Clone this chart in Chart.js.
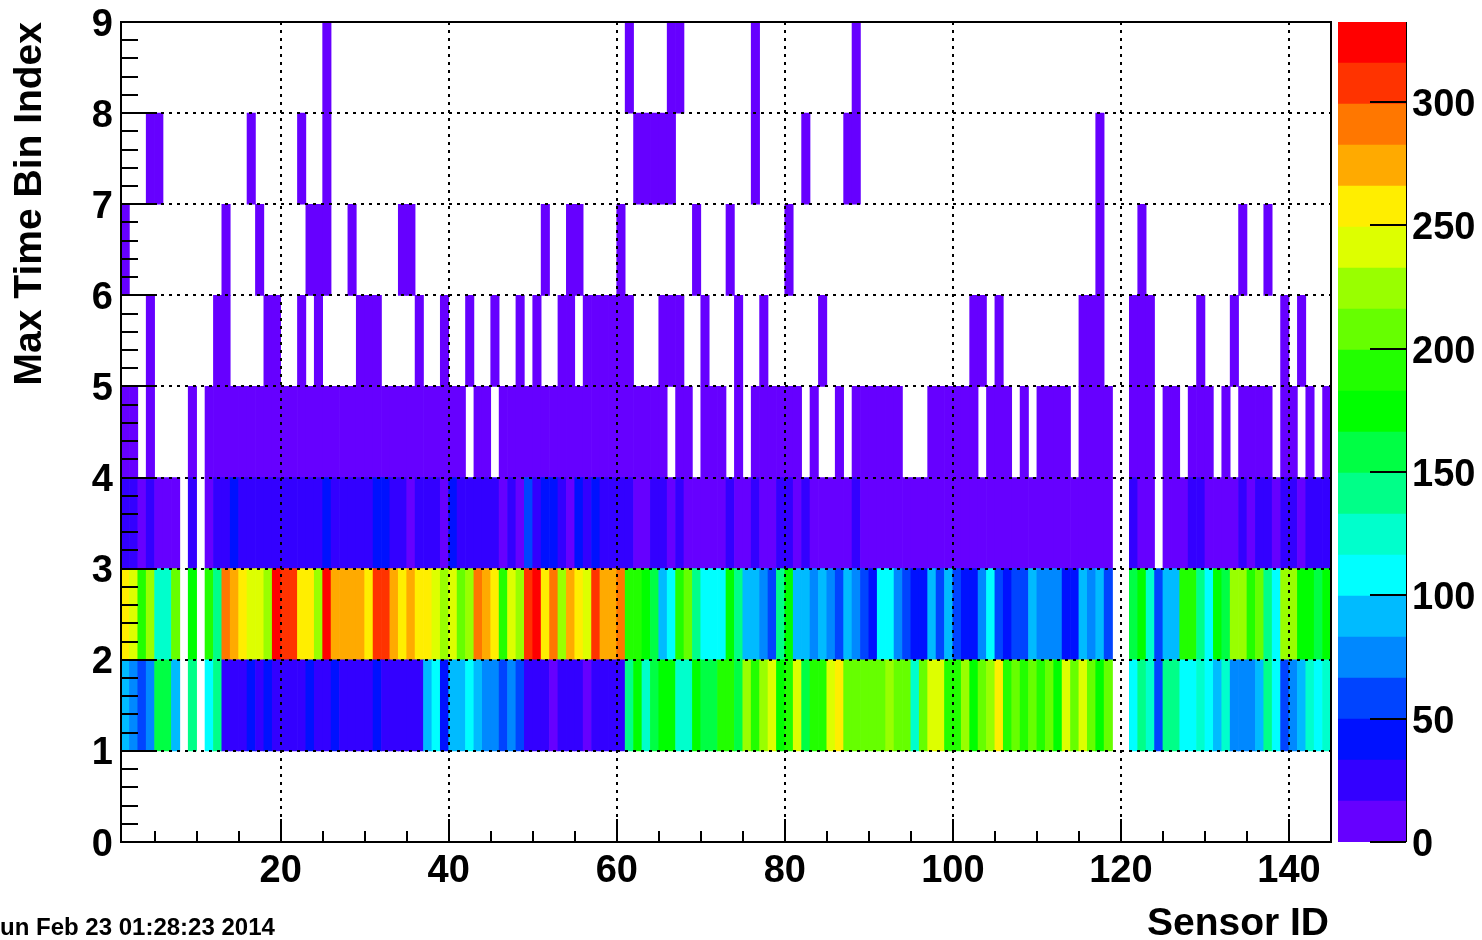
<!DOCTYPE html>
<html>
<head>
<meta charset="utf-8">
<script src="https://cdn.jsdelivr.net/npm/chart.js@4.4.0/dist/chart.umd.min.js"></script>
<style>
  html, body { margin: 0; padding: 0; background: #fff; }
  #wrap { position: relative; width: 1482px; height: 940px; overflow: hidden; }
  #main { position: absolute; left: 0; top: 0; }
  #zbar { position: absolute; left: 1330px; top: 0; }
</style>
</head>
<body>
<div id="wrap">
  <canvas id="main" width="1482" height="940"></canvas>
  <canvas id="zbar" width="152" height="940"></canvas>
</div>
<script>
// Sensor IDs (x bins, 1 wide, from 1 to 145)
var sensorIds = Array.from({ length: 144 }, function (_, i) { return i + 1; });

// Counts per sensor for each "max time bin index" row (lower edge of the y bin)
var rowY1 = [
  91, 75, 58, 75, 158, 158, 91, 0, 141, 0,
  108, 141, 25, 25, 25, 41, 25, 41, 25, 25,
  25, 25, 41, 25, 25, 41, 25, 25, 25, 25,
  41, 25, 25, 25, 25, 25, 91, 108, 41, 91,
  91, 108, 91, 75, 75, 58, 75, 58, 25, 25,
  25, 8, 25, 25, 25, 8, 25, 25, 25, 25,
  141, 175, 125, 158, 175, 175, 125, 125, 175, 158,
  158, 191, 191, 158, 224, 191, 224, 241, 175, 191,
  241, 158, 191, 191, 241, 257, 208, 208, 208, 208,
  208, 224, 208, 208, 125, 208, 241, 241, 191, 191,
  224, 175, 208, 224, 257, 191, 208, 191, 208, 191,
  208, 175, 241, 208, 241, 208, 175, 208, 0, 0,
  108, 141, 125, 58, 141, 141, 108, 108, 125, 108,
  91, 125, 75, 75, 75, 91, 141, 108, 58, 75,
  91, 125, 108, 125
];
var rowY2 = [
  257, 241, 191, 224, 125, 125, 208, 0, 175, 0,
  191, 141, 291, 274, 257, 241, 241, 224, 324, 307,
  307, 257, 257, 224, 324, 274, 274, 274, 274, 257,
  307, 307, 274, 257, 274, 257, 257, 241, 224, 241,
  208, 224, 291, 274, 257, 191, 241, 224, 307, 324,
  257, 291, 224, 274, 257, 241, 307, 274, 274, 291,
  191, 191, 175, 158, 91, 108, 191, 208, 141, 108,
  108, 108, 175, 141, 91, 91, 75, 58, 141, 175,
  91, 91, 75, 91, 75, 58, 91, 75, 58, 41,
  108, 108, 75, 58, 41, 41, 91, 58, 91, 58,
  41, 41, 75, 108, 58, 41, 58, 58, 91, 75,
  75, 75, 41, 41, 91, 75, 91, 58, 0, 0,
  158, 175, 125, 58, 91, 91, 191, 191, 141, 108,
  175, 158, 224, 224, 191, 208, 141, 108, 224, 224,
  175, 175, 158, 175
];
var rowY3 = [
  25, 25, 8, 25, 8, 8, 8, 0, 25, 0,
  8, 25, 25, 41, 25, 25, 25, 25, 25, 25,
  25, 25, 25, 25, 41, 25, 25, 25, 25, 25,
  41, 41, 25, 25, 8, 25, 25, 25, 8, 41,
  25, 25, 25, 25, 25, 8, 25, 8, 58, 25,
  41, 41, 25, 8, 41, 25, 41, 25, 25, 25,
  25, 8, 8, 25, 25, 8, 25, 8, 8, 8,
  8, 8, 25, 8, 8, 25, 8, 8, 25, 25,
  8, 25, 8, 8, 8, 8, 8, 25, 8, 8,
  8, 8, 8, 8, 8, 8, 8, 8, 8, 8,
  8, 8, 8, 8, 8, 8, 8, 8, 8, 8,
  8, 8, 8, 8, 8, 8, 8, 8, 0, 0,
  25, 8, 8, 0, 8, 8, 8, 25, 25, 8,
  8, 8, 8, 25, 8, 25, 25, 8, 25, 25,
  8, 25, 25, 25
];
var rowY4 = [
  4, 4, 0, 4, 0, 0, 0, 0, 4, 0,
  4, 4, 4, 4, 4, 4, 4, 4, 4, 4,
  4, 4, 4, 4, 4, 4, 4, 4, 4, 4,
  4, 4, 4, 4, 4, 4, 4, 4, 4, 4,
  4, 0, 4, 4, 0, 4, 4, 4, 4, 4,
  4, 4, 4, 4, 4, 4, 4, 4, 4, 4,
  4, 4, 4, 4, 4, 0, 4, 4, 0, 4,
  4, 4, 0, 4, 0, 4, 4, 4, 4, 4,
  4, 0, 4, 0, 0, 4, 0, 4, 4, 4,
  4, 4, 4, 0, 0, 0, 4, 4, 4, 4,
  4, 4, 0, 4, 4, 4, 0, 4, 0, 4,
  4, 4, 4, 0, 4, 4, 4, 4, 0, 0,
  4, 4, 4, 0, 4, 4, 0, 4, 4, 4,
  0, 4, 0, 4, 4, 4, 4, 0, 4, 4,
  0, 4, 0, 4
];
var rowY5 = [
  0, 0, 0, 1, 0, 0, 0, 0, 0, 0,
  0, 1, 1, 0, 0, 0, 0, 1, 1, 0,
  0, 1, 0, 1, 0, 0, 0, 0, 1, 1,
  1, 0, 0, 0, 0, 1, 0, 0, 1, 0,
  0, 1, 0, 0, 1, 0, 0, 1, 0, 1,
  0, 0, 1, 1, 0, 1, 1, 1, 1, 1,
  1, 0, 0, 0, 1, 1, 1, 0, 0, 1,
  0, 0, 0, 1, 0, 0, 1, 0, 0, 0,
  0, 0, 0, 1, 0, 0, 0, 0, 0, 0,
  0, 0, 0, 0, 0, 0, 0, 0, 0, 0,
  0, 1, 1, 0, 1, 0, 0, 0, 0, 0,
  0, 0, 0, 0, 1, 1, 1, 0, 0, 0,
  1, 1, 1, 0, 0, 0, 0, 0, 1, 0,
  0, 0, 1, 0, 0, 0, 0, 0, 1, 0,
  1, 0, 0, 0
];
var rowY6 = [
  1, 0, 0, 0, 0, 0, 0, 0, 0, 0,
  0, 0, 1, 0, 0, 0, 1, 0, 0, 0,
  0, 0, 1, 1, 1, 0, 0, 1, 0, 0,
  0, 0, 0, 1, 1, 0, 0, 0, 0, 0,
  0, 0, 0, 0, 0, 0, 0, 0, 0, 0,
  1, 0, 0, 1, 1, 0, 0, 0, 0, 1,
  0, 0, 0, 0, 0, 0, 0, 0, 1, 0,
  0, 0, 1, 0, 0, 0, 0, 0, 0, 1,
  0, 0, 0, 0, 0, 0, 0, 0, 0, 0,
  0, 0, 0, 0, 0, 0, 0, 0, 0, 0,
  0, 0, 0, 0, 0, 0, 0, 0, 0, 0,
  0, 0, 0, 0, 0, 0, 1, 0, 0, 0,
  0, 1, 0, 0, 0, 0, 0, 0, 0, 0,
  0, 0, 0, 1, 0, 0, 1, 0, 0, 0,
  0, 0, 0, 0
];
var rowY7 = [
  0, 0, 0, 1, 1, 0, 0, 0, 0, 0,
  0, 0, 0, 0, 0, 1, 0, 0, 0, 0,
  0, 1, 0, 0, 1, 0, 0, 0, 0, 0,
  0, 0, 0, 0, 0, 0, 0, 0, 0, 0,
  0, 0, 0, 0, 0, 0, 0, 0, 0, 0,
  0, 0, 0, 0, 0, 0, 0, 0, 0, 0,
  0, 1, 1, 1, 1, 1, 0, 0, 0, 0,
  0, 0, 0, 0, 0, 1, 0, 0, 0, 0,
  0, 1, 0, 0, 0, 0, 1, 1, 0, 0,
  0, 0, 0, 0, 0, 0, 0, 0, 0, 0,
  0, 0, 0, 0, 0, 0, 0, 0, 0, 0,
  0, 0, 0, 0, 0, 0, 1, 0, 0, 0,
  0, 0, 0, 0, 0, 0, 0, 0, 0, 0,
  0, 0, 0, 0, 0, 0, 0, 0, 0, 0,
  0, 0, 0, 0
];
var rowY8 = [
  0, 0, 0, 0, 0, 0, 0, 0, 0, 0,
  0, 0, 0, 0, 0, 0, 0, 0, 0, 0,
  0, 0, 0, 0, 1, 0, 0, 0, 0, 0,
  0, 0, 0, 0, 0, 0, 0, 0, 0, 0,
  0, 0, 0, 0, 0, 0, 0, 0, 0, 0,
  0, 0, 0, 0, 0, 0, 0, 0, 0, 0,
  1, 0, 0, 0, 0, 1, 1, 0, 0, 0,
  0, 0, 0, 0, 0, 1, 0, 0, 0, 0,
  0, 0, 0, 0, 0, 0, 0, 1, 0, 0,
  0, 0, 0, 0, 0, 0, 0, 0, 0, 0,
  0, 0, 0, 0, 0, 0, 0, 0, 0, 0,
  0, 0, 0, 0, 0, 0, 0, 0, 0, 0,
  0, 0, 0, 0, 0, 0, 0, 0, 0, 0,
  0, 0, 0, 0, 0, 0, 0, 0, 0, 0,
  0, 0, 0, 0
];

var rowLowEdges = [1, 2, 3, 4, 5, 6, 7, 8];
var rowValues = [rowY1, rowY2, rowY3, rowY4, rowY5, rowY6, rowY7, rowY8];

// Axis ticks / labels
var xLabelTicks = [20, 40, 60, 80, 100, 120, 140];
var yLabelTicks = [0, 1, 2, 3, 4, 5, 6, 7, 8, 9];
var zLabelTicks = [0, 50, 100, 150, 200, 250, 300];

// Colour scale (ROOT rainbow, 20 contours)
var zMin = 0;
var zMax = 332.4;
var palette = [
  "#6600ff", "#3300ff", "#0011ff", "#0044ff", "#0088ff",
  "#00bbff", "#00ffff", "#00ffcc", "#00ff88", "#00ff44",
  "#00ff00", "#22ff00", "#66ff00", "#99ff00", "#ddff00",
  "#ffee00", "#ffaa00", "#ff7700", "#ff3300", "#ff0000"
];

var FONT = '"Liberation Sans", Arial, Helvetica, sans-serif';

function colorFor(v) {
  var idx = Math.floor((v - zMin) / (zMax - zMin) * palette.length);
  if (idx < 0) idx = 0;
  if (idx > palette.length - 1) idx = palette.length - 1;
  return palette[idx];
}

// one floating-bar dataset per y row, zero cells left out (ROOT leaves them empty)
var datasets = rowValues.map(function (vals, r) {
  var pts = [];
  vals.forEach(function (v, i) {
    if (v > 0) pts.push({ x: sensorIds[i] + 0.5, y: [rowLowEdges[r], rowLowEdges[r] + 1], v: v });
  });
  return {
    data: pts,
    backgroundColor: function (c) { return c.raw ? colorFor(c.raw.v) : palette[0]; },
    borderWidth: 0,
    grouped: false,
    barPercentage: 1,
    categoryPercentage: 1
  };
});

function line(c, x1, y1, x2, y2) {
  c.beginPath();
  c.moveTo(x1, y1);
  c.lineTo(x2, y2);
  c.stroke();
}

var rootFrame = {
  id: "rootFrame",
  afterDraw: function (chart) {
    var c = chart.ctx;
    var a = chart.chartArea;
    var xs = chart.scales.x;
    var ys = chart.scales.y;
    c.save();
    c.strokeStyle = "#000";
    c.lineWidth = 2;

    // x ticks, inside the frame
    for (var v = 5; v <= 145; v += 5) {
      var px = Math.round(xs.getPixelForValue(v));
      line(c, px, a.bottom, px, a.bottom - (v % 20 === 0 ? 23 : 11));
    }
    // y ticks
    for (var i = 0; i <= 45; i++) {
      var py = Math.round(ys.getPixelForValue(i * 0.2));
      line(c, a.left, py, a.left + (i % 5 === 0 ? 36 : 17), py);
    }
    c.strokeRect(a.left, a.top, a.right - a.left, a.bottom - a.top);

    // tick labels
    c.fillStyle = "#000";
    c.font = "bold 38px " + FONT;
    c.textBaseline = "alphabetic";
    c.textAlign = "center";
    xLabelTicks.forEach(function (t) {
      c.fillText(String(t), xs.getPixelForValue(t), 882);
    });
    c.textAlign = "right";
    yLabelTicks.forEach(function (t) {
      c.fillText(String(t), 113, ys.getPixelForValue(t) + 13.5);
    });

    // axis titles
    c.font = "bold 39px " + FONT;
    c.textAlign = "right";
    c.fillText("Sensor ID", a.right - 2, 935);
    c.save();
    c.translate(41, a.top);
    c.rotate(-Math.PI / 2);
    c.fillText("Max Time Bin Index", 0, 0);
    c.restore();

    // date stamp
    c.textAlign = "left";
    c.font = "bold 24px " + FONT;
    c.fillText("Sun Feb 23 01:28:23 2014", -16, 935);
    c.restore();
  }
};

new Chart(document.getElementById("main"), {
  type: "bar",
  data: { datasets: datasets },
  options: {
    responsive: false,
    animation: false,
    events: [],
    layout: { padding: { left: 121, right: 151, top: 22, bottom: 98 } },
    plugins: { legend: { display: false }, tooltip: { enabled: false } },
    scales: {
      x: {
        type: "linear",
        min: 1,
        max: 145,
        offset: false,
        afterFit: function (s) { s.height = 0; },
        afterBuildTicks: function (s) {
          s.ticks = xLabelTicks.map(function (t) { return { value: t }; });
        },
        ticks: { display: false },
        grid: { color: "#000", lineWidth: 2, drawTicks: false, offset: false, z: 1 },
        border: { display: false, dash: [3, 5] }
      },
      y: {
        type: "linear",
        min: 0,
        max: 9,
        afterFit: function (s) { s.width = 0; },
        afterBuildTicks: function (s) {
          s.ticks = yLabelTicks.slice(1, -1).map(function (t) { return { value: t }; });
        },
        ticks: { display: false },
        grid: { color: "#000", lineWidth: 2, drawTicks: false, offset: false, z: 1 },
        border: { display: false, dash: [3, 5] }
      }
    }
  },
  plugins: [rootFrame]
});

// colour bar: one floating bar per contour band
var bandDatasets = palette.map(function (col, i) {
  var step = (zMax - zMin) / palette.length;
  return {
    data: [[zMin + i * step, zMin + (i + 1) * step]],
    backgroundColor: col,
    borderWidth: 0,
    grouped: false,
    barPercentage: 1,
    categoryPercentage: 1
  };
});

var zAxisDeco = {
  id: "zAxisDeco",
  afterDraw: function (chart) {
    var c = chart.ctx;
    var a = chart.chartArea;
    var zs = chart.scales.y;
    c.save();
    c.strokeStyle = "#000";
    c.lineWidth = 1;
    line(c, a.right + 0.5, a.top, a.right + 0.5, a.bottom);
    c.lineWidth = 2;
    c.fillStyle = "#000";
    c.font = "bold 38px " + FONT;
    c.textAlign = "left";
    c.textBaseline = "alphabetic";
    zLabelTicks.forEach(function (t) {
      var py = Math.round(zs.getPixelForValue(t));
      line(c, a.right, py, a.right - 36, py);
      c.fillText(String(t), a.right + 6, py + 13.5);
    });
    c.restore();
  }
};

new Chart(document.getElementById("zbar"), {
  type: "bar",
  data: { labels: ["z"], datasets: bandDatasets },
  options: {
    responsive: false,
    animation: false,
    events: [],
    layout: { padding: { left: 8, right: 76, top: 22, bottom: 98 } },
    plugins: { legend: { display: false }, tooltip: { enabled: false } },
    scales: {
      x: {
        afterFit: function (s) { s.height = 0; },
        ticks: { display: false },
        grid: { display: false },
        border: { display: false }
      },
      y: {
        min: zMin,
        max: zMax,
        afterFit: function (s) { s.width = 0; },
        ticks: { display: false },
        grid: { display: false },
        border: { display: false }
      }
    }
  },
  plugins: [zAxisDeco]
});
</script>
</body>
</html>
